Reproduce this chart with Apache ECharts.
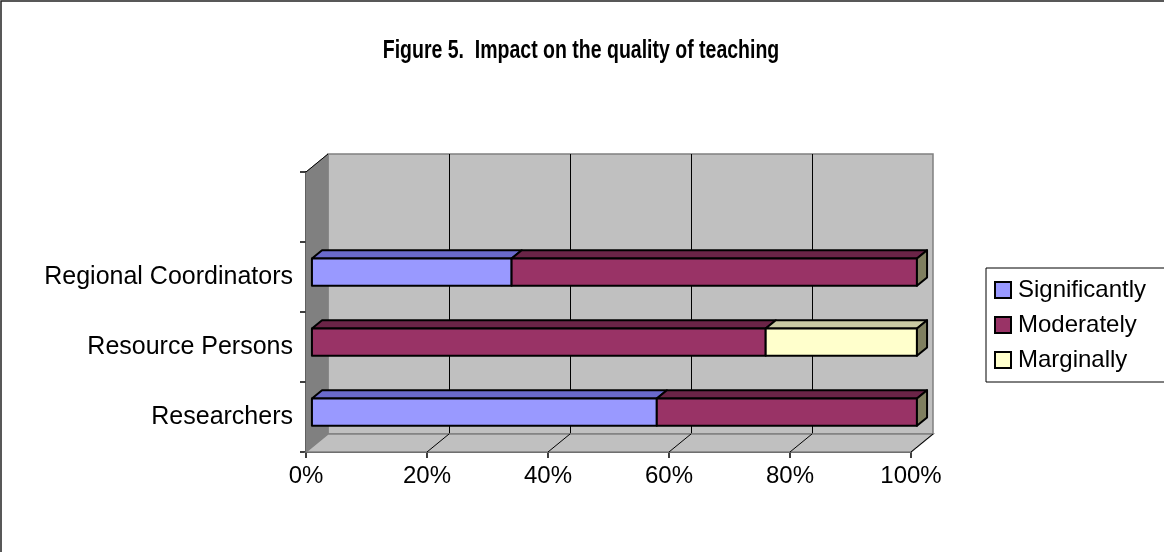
<!DOCTYPE html>
<html>
<head>
<meta charset="utf-8">
<script src="https://cdn.jsdelivr.net/npm/echarts@6/dist/echarts.min.js"></script>
<style>
  html, body { margin: 0; padding: 0; background: #fff; }
  #chart { width: 1164px; height: 552px; }
</style>
</head>
<body>
<div id="chart"></div>
<script>
// Survey groups (bottom to top); the top slot of the category axis is left empty.
const categories = ['Researchers', 'Resource Persons', 'Regional Coordinators', ''];
// Share of answers per group, in percent.
const significantly = [57, 0, 33, null];
const moderately = [43, 75, 67, null];
const marginally = [0, 25, 0, null];
const percentTicks = [0, 20, 40, 60, 80, 100];

const seriesNames = ['Significantly', 'Moderately', 'Marginally'];
const seriesValues = [significantly, moderately, marginally];
const titleText = 'Figure 5.  Impact on the quality of teaching';

// Depth of the 3D box (pixels) and where a bar sits inside that depth.
const DX = 22, DY = -18;
const BAR_FRONT = 0.27, BAR_BACK = 0.73;
const BAR_THICK = 0.39;

const faceColors = ['#9999ff', '#993366', '#ffffcc'];
const topColors = ['#6a6acc', '#6b2447', '#c9c9a3'];
const sideColor = '#7f7f5f';

const FONT = 'Liberation Sans, Arial, sans-serif';

// Stacked segments: [start, end, categoryIndex, isLast]
function segmentsFor(si) {
  const out = [];
  for (let c = 0; c < categories.length; c++) {
    if (seriesValues[si][c] == null) continue;
    let start = 0;
    for (let k = 0; k < si; k++) start += seriesValues[k][c] || 0;
    const end = start + seriesValues[si][c];
    let total = 0;
    for (let k = 0; k < seriesValues.length; k++) total += seriesValues[k][c] || 0;
    out.push([start, end, c, end >= total ? 1 : 0]);
  }
  return out;
}

function barRender(si) {
  return function (params, api) {
    const start = api.value(0), end = api.value(1), cat = api.value(2), last = api.value(3);
    if (end - start <= 0) return null;
    const p0 = api.coord([start, cat]);
    const p1 = api.coord([end, cat]);
    const band = api.size([0, 1])[1];
    const h = band * BAR_THICK;
    const fx = BAR_FRONT * DX, fy = BAR_FRONT * DY;
    const ddx = (BAR_BACK - BAR_FRONT) * DX, ddy = (BAR_BACK - BAR_FRONT) * DY;
    const x0 = p0[0] + fx, x1 = p1[0] + fx;
    const yT = p0[1] + fy - h / 2, yB = p0[1] + fy + h / 2;
    const stroke = { stroke: '#000', lineWidth: 2, lineJoin: 'round' };
    const children = [
      { type: 'polygon', shape: { points: [[x0, yT], [x0 + ddx, yT + ddy], [x1 + ddx, yT + ddy], [x1, yT]] },
        style: Object.assign({ fill: topColors[si] }, stroke) },
      { type: 'rect', shape: { x: x0, y: yT, width: x1 - x0, height: yB - yT },
        style: Object.assign({ fill: faceColors[si] }, stroke) }
    ];
    if (last) {
      children.push({ type: 'polygon', shape: { points: [[x1, yT], [x1 + ddx, yT + ddy], [x1 + ddx, yB + ddy], [x1, yB]] },
        style: Object.assign({ fill: sideColor }, stroke) });
    }
    return { type: 'group', children };
  };
}

// Side wall, floor and floor tick diagonals of the 3D box (front plane = grid 0).
function wallRender(params, api) {
  const cs = params.coordSys;
  const x = cs.x, y = cs.y, w = cs.width, h = cs.height;
  const children = [
    { type: 'polygon', shape: { points: [[x, y], [x + DX, y + DY], [x + DX, y + h + DY], [x, y + h]] },
      style: { fill: '#808080', stroke: '#808080', lineWidth: 1 } },
    { type: 'polygon', shape: { points: [[x, y + h], [x + DX, y + h + DY], [x + w + DX, y + h + DY], [x + w, y + h]] },
      style: { fill: '#c0c0c0', stroke: '#808080', lineWidth: 1.5 } },
    { type: 'line', shape: { x1: x, y1: y, x2: x + DX, y2: y + DY },
      style: { stroke: '#000', lineWidth: 1 } }
  ];
  percentTicks.forEach(function (v) {
    if (v === 0) return;
    const px = api.coord([v, 0])[0];
    children.push({ type: 'line', shape: { x1: px, y1: y + h, x2: px + DX, y2: y + h + DY },
      style: { stroke: '#000', lineWidth: 1 } });
  });
  return { type: 'group', children };
}

const chart = echarts.init(document.getElementById('chart'), null, { renderer: 'canvas' });

const gridFront = { left: 306, right: 253, top: 172, bottom: 100 };
const gridBack = { left: 306 + DX, right: 253 - DX, top: 172 + DY, bottom: 100 - DY };

const option = {
  animation: false,
  backgroundColor: '#ffffff',
  graphic: [
    // outer chart frame
    { type: 'rect', shape: { x: 1, y: 1, width: 1200, height: 600 },
      style: { fill: 'none', stroke: '#222', lineWidth: 1.5 }, z: 100 },
    // condensed bold title
    { type: 'text', x: 581, y: 51, scaleX: 0.78, z: 100,
      style: { text: titleText, fontFamily: FONT, fontSize: 25, fontWeight: 'bold', fill: '#000',
               align: 'center', verticalAlign: 'middle' } }
  ],
  legend: {
    data: seriesNames,
    orient: 'vertical',
    left: 986,
    top: 268,
    padding: [10, 60, 10, 8],
    itemGap: 11,
    itemWidth: 16,
    itemHeight: 16,
    icon: 'rect',
    borderColor: '#000',
    borderWidth: 1,
    itemStyle: { borderColor: '#000', borderWidth: 2 },
    textStyle: { fontFamily: FONT, fontSize: 24, color: '#000', padding: [0, 0, 0, 2] }
  },
  grid: [
    Object.assign({ containLabel: false }, gridFront),
    Object.assign({ show: true, backgroundColor: '#c0c0c0', borderColor: '#808080', borderWidth: 1.5 }, gridBack)
  ],
  xAxis: [
    {
      type: 'value', gridIndex: 0, min: 0, max: 100, interval: 20,
      axisLine: { show: true, lineStyle: { color: '#000', width: 1.5 } },
      axisTick: { show: true, length: 6, lineStyle: { color: '#000', width: 1.5 } },
      axisLabel: { formatter: '{value}%', margin: 12, fontFamily: FONT, fontSize: 24, color: '#000' },
      splitLine: { show: false }
    },
    {
      type: 'value', gridIndex: 1, min: 0, max: 100, interval: 20,
      axisLine: { show: false }, axisTick: { show: false }, axisLabel: { show: false },
      splitLine: { show: true, showMinLine: false, showMaxLine: false, lineStyle: { color: '#000', width: 1 } }
    }
  ],
  yAxis: [
    {
      type: 'category', gridIndex: 0, data: categories,
      axisLine: { show: true, lineStyle: { color: '#000', width: 1.5 } },
      axisTick: { show: true, length: 6, lineStyle: { color: '#000', width: 1.5 } },
      axisLabel: { margin: 13, fontFamily: FONT, fontSize: 25, color: '#000' },
      splitLine: { show: false }
    },
    {
      type: 'category', gridIndex: 1, data: categories,
      axisLine: { show: false }, axisTick: { show: false }, axisLabel: { show: false },
      splitLine: { show: false }
    }
  ],
  series: [
    {
      name: 'walls', type: 'custom', xAxisIndex: 0, yAxisIndex: 0,
      renderItem: wallRender, data: [[0, 0]], silent: true, z: 1
    }
  ].concat(seriesNames.map(function (name, si) {
    return {
      name: name, type: 'custom', xAxisIndex: 0, yAxisIndex: 0,
      renderItem: barRender(si),
      encode: { x: [0, 1], y: 2 },
      itemStyle: { color: faceColors[si] },
      data: segmentsFor(si), z: 2
    };
  }))
};

chart.setOption(option);
</script>
</body>
</html>
